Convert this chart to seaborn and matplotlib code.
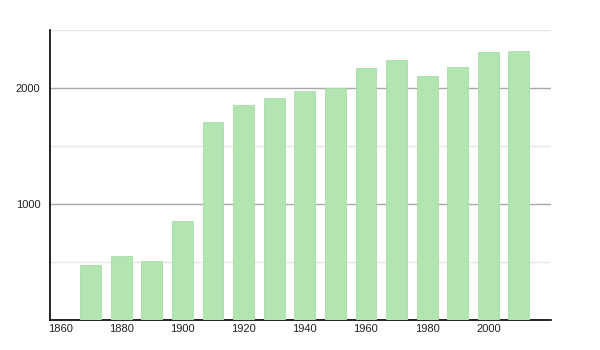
import matplotlib
matplotlib.use("Agg")
import matplotlib.pyplot as plt
import seaborn as sns
import pandas as pd
from matplotlib.ticker import FixedLocator

years = [1870, 1880, 1890, 1900, 1910, 1920, 1930, 1940, 1950, 1960, 1970, 1980, 1990, 2000, 2010]
population = [477, 554, 511, 853, 1709, 1856, 1914, 1977, 2000, 2175, 2244, 2106, 2184, 2313, 2321]
x_ticks = [1860, 1880, 1900, 1920, 1940, 1960, 1980, 2000]
y_major = [1000, 2000]
y_minor = [500, 1500, 2500]

df = pd.DataFrame({"year": years, "population": population})

sns.set_style("white")
plt.rcParams['font.family'] = ['Liberation Sans', 'DejaVu Sans']

fig = plt.figure(figsize=(6, 3.5), dpi=100)
ax = fig.add_axes([50/600, (350-320.3)/350, (551-50)/600, (320.3-30)/350])

ax.bar(df["year"], df["population"], width=6.8, color="#b3e5b3", edgecolor="#aadcaa", linewidth=0.6, zorder=3)

ax.set_xlim(1856.7, 2020.5)
ax.set_ylim(0, 2500)

for v in y_minor:
    ax.axhline(v, color="#e6e6e6", linewidth=1, zorder=1)
for v in y_major:
    ax.axhline(v, color="#a8a8a8", linewidth=1, zorder=1)

ax.xaxis.set_major_locator(FixedLocator(x_ticks))
ax.yaxis.set_major_locator(FixedLocator(y_major))
ax.yaxis.set_minor_locator(FixedLocator(y_minor))
ax.tick_params(axis="x", length=0, labelsize=8, pad=3, colors="#222222")
ax.tick_params(axis="y", which="major", length=5, width=1, labelsize=8, colors="#222222", pad=2)
ax.tick_params(axis="y", which="minor", length=2.5, width=1, color="#222222")
ax.tick_params(axis="x", labelcolor="#222222")

for s in ["top", "right"]:
    ax.spines[s].set_visible(False)
ax.spines["left"].set_color("#000000")
ax.spines["bottom"].set_color("#000000")
ax.spines["left"].set_linewidth(1.2)
ax.spines["bottom"].set_linewidth(1.2)
ax.set_xlabel("")
ax.set_ylabel("")

fig.savefig("out.png", dpi=100)
